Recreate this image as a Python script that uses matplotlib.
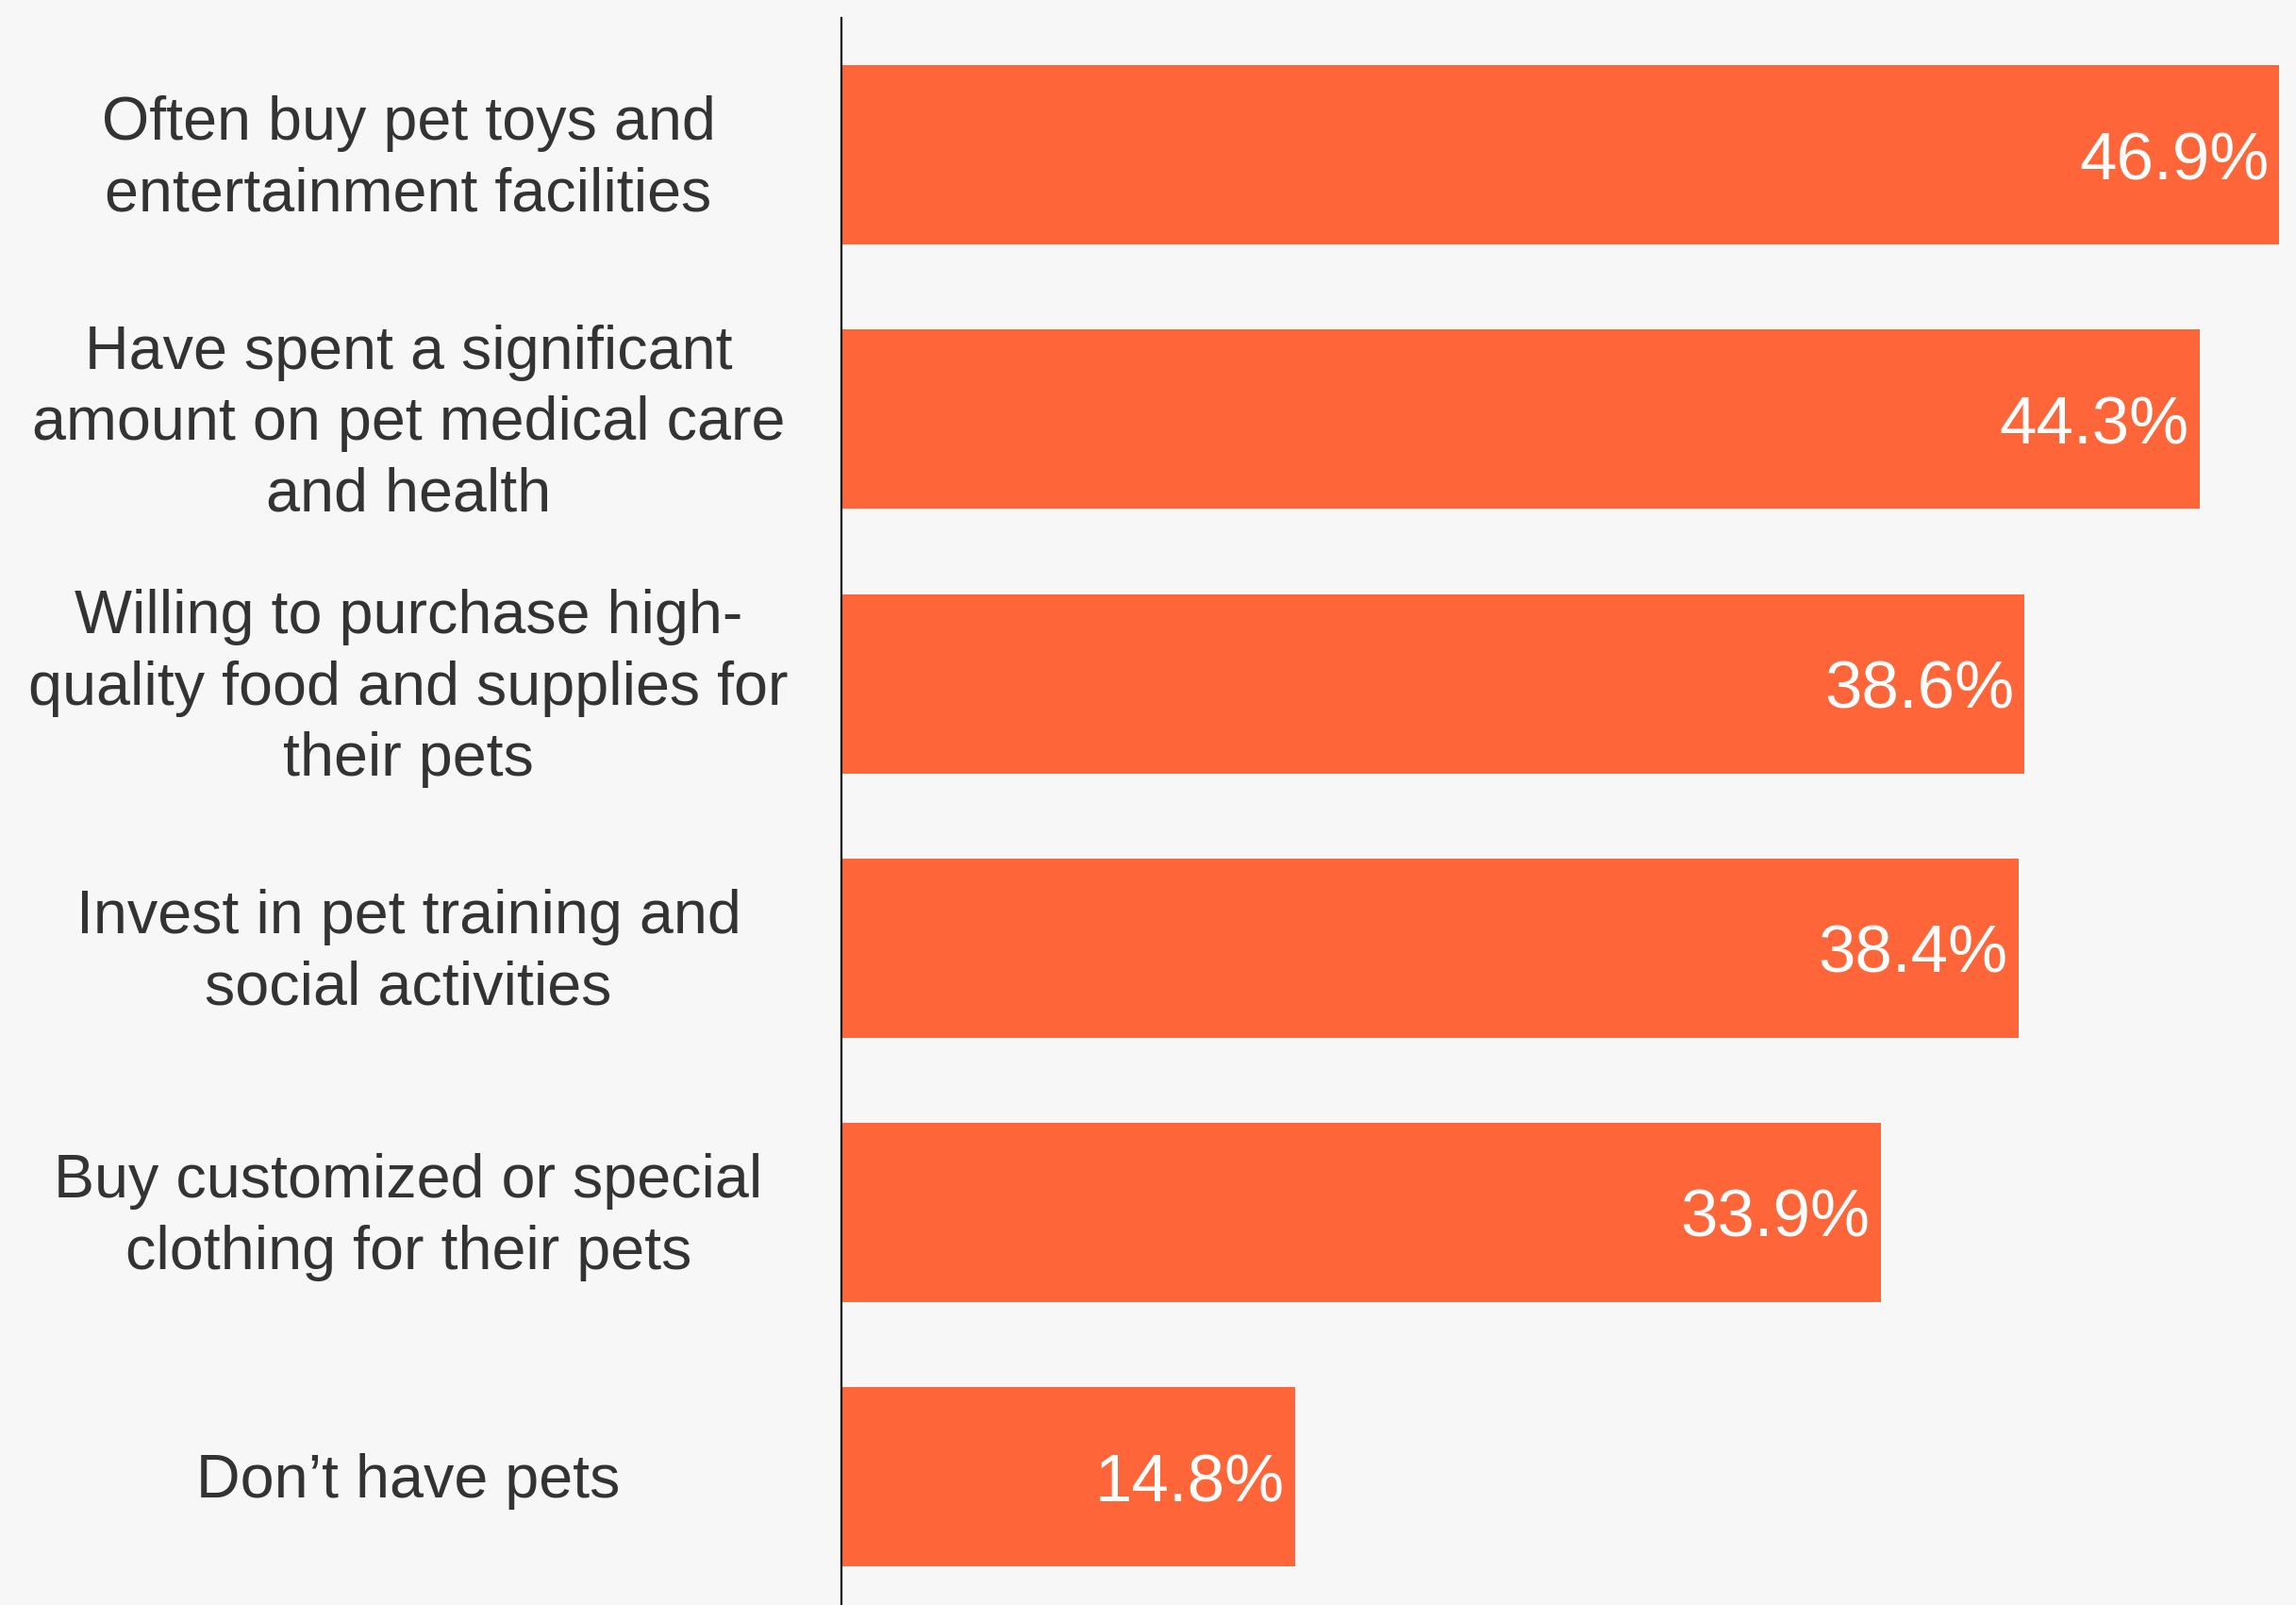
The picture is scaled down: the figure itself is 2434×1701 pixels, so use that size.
import matplotlib
matplotlib.use("Agg")
import matplotlib.pyplot as plt
import matplotlib.transforms as mtransforms

categories = [
    "Often buy pet toys and\nentertainment facilities",
    "Have spent a significant\namount on pet medical care\nand health",
    "Willing to purchase high-\nquality food and supplies for\ntheir pets",
    "Invest in pet training and\nsocial activities",
    "Buy customized or special\nclothing for their pets",
    "Don\u2019t have pets",
]
values = [46.9, 44.3, 38.6, 38.4, 33.9, 14.8]
value_labels = ["46.9%", "44.3%", "38.6%", "38.4%", "33.9%", "14.8%"]

W, H, DPI = 2434, 1701, 100
bg = "#f7f7f7"
bar_color = "#FE6538"
plt.rcParams['font.family'] = ['Liberation Sans', 'DejaVu Sans']

fig = plt.figure(figsize=(W / DPI, H / DPI), dpi=DPI, facecolor=bg)
ax = fig.add_axes([892 / W, 0, 1 - 892 / W, 1 - 19 / H])
ax.set_facecolor(bg)

ypos = list(range(len(categories)))
ax.barh(ypos, values, height=0.678, color=bar_color, zorder=2)
ax.set_xlim(0, 47.45)
ax.set_ylim(5.485, -0.518)

for s in ["top", "right", "bottom"]:
    ax.spines[s].set_visible(False)
ax.spines["left"].set_linewidth(1.6)
ax.spines["left"].set_color("#111111")
ax.set_xticks([])
ax.set_yticks([])

# value labels inside bar end
offset = mtransforms.offset_copy(ax.transData, fig=fig, x=-11 * 72 / DPI,
                                 y=-8 * 72 / DPI, units="points")
for y, v, lab in zip(ypos, values, value_labels):
    ax.text(v, y, lab, transform=offset, ha="right", va="center",
            color="white", fontsize=51, zorder=3)

# category labels
trans = mtransforms.blended_transform_factory(fig.transFigure, ax.transData)
trans = trans + mtransforms.ScaledTranslation(0, -5 / DPI, fig.dpi_scale_trans)
for y, cat in zip(ypos, categories):
    ax.text(433 / W, y, cat, transform=trans, ha="center", va="center",
            multialignment="center", color="#333333", fontsize=46.5,
            linespacing=1.33, clip_on=False)

fig.savefig("out.png", dpi=DPI, facecolor=bg)
